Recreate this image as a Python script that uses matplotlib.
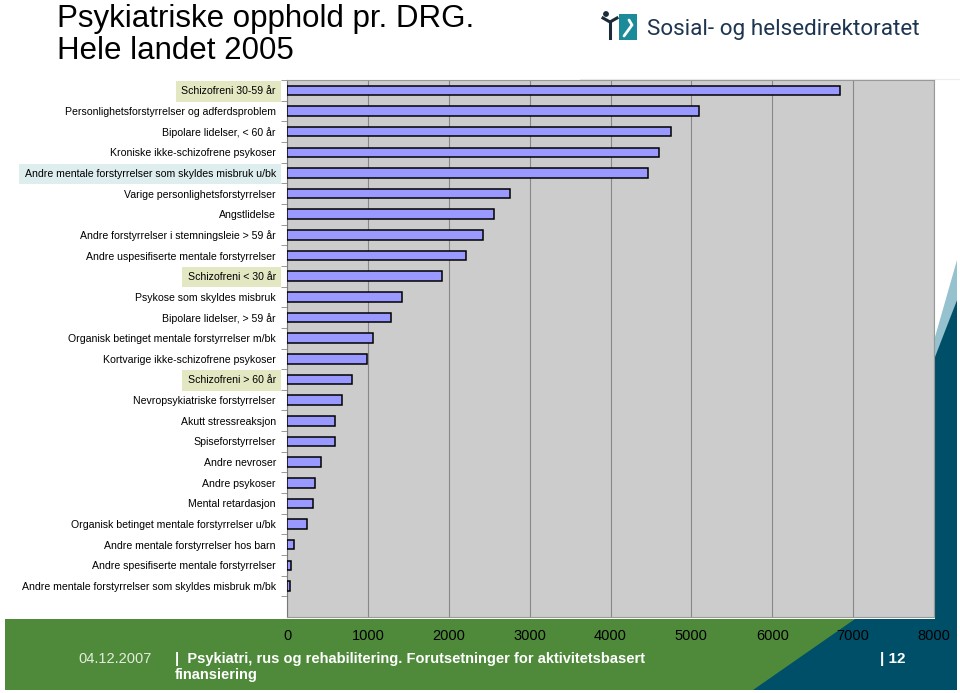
import numpy as np
import matplotlib.pyplot as plt
from matplotlib.patches import Polygon, Rectangle

plt.rcParams['font.family'] = ['Liberation Sans', 'DejaVu Sans']

# data, top row first
categories = [
    'Schizofreni 30-59 år',
    'Personlighetsforstyrrelser og adferdsproblem',
    'Bipolare lidelser, < 60 år',
    'Kroniske ikke-schizofrene psykoser',
    'Andre mentale forstyrrelser som skyldes misbruk u/bk',
    'Varige personlighetsforstyrrelser',
    'Angstlidelse',
    'Andre forstyrrelser i stemningsleie > 59 år',
    'Andre uspesifiserte mentale forstyrrelser',
    'Schizofreni < 30 år',
    'Psykose som skyldes misbruk',
    'Bipolare lidelser, > 59 år',
    'Organisk betinget mentale forstyrrelser m/bk',
    'Kortvarige ikke-schizofrene psykoser',
    'Schizofreni > 60 år',
    'Nevropsykiatriske forstyrrelser',
    'Akutt stressreaksjon',
    'Spiseforstyrrelser',
    'Andre nevroser',
    'Andre psykoser',
    'Mental retardasjon',
    'Organisk betinget mentale forstyrrelser u/bk',
    'Andre mentale forstyrrelser hos barn',
    'Andre spesifiserte mentale forstyrrelser',
    'Andre mentale forstyrrelser som skyldes misbruk m/bk',
]
opphold = [6840, 5090, 4750, 4600, 4460, 2760, 2560, 2420, 2210, 1920,
           1420, 1290, 1060, 990, 800, 680, 595, 590, 420, 345,
           320, 245, 85, 50, 40]
x_ticks = [0, 1000, 2000, 3000, 4000, 5000, 6000, 7000, 8000]
# labels with coloured background
highlight = {
    'Schizofreni 30-59 år': '#e3e8c2',
    'Schizofreni < 30 år': '#e3e8c2',
    'Schizofreni > 60 år': '#e3e8c2',
    'Andre mentale forstyrrelser som skyldes misbruk u/bk': '#deeded',
}

W, H = 960, 693
fig = plt.figure(figsize=(W / 100, H / 100), dpi=100)

# background decoration in pixel coords
bg = fig.add_axes([0, 0, 1, 1], zorder=-1)
bg.set_xlim(0, W)
bg.set_ylim(H, 0)
bg.set_axis_off()
bg.add_patch(Rectangle((5, 619), 952, 71, facecolor='#4f8a3b', edgecolor='none'))
bg.add_patch(Polygon([(957, 260), (935, 337), (935, 360), (957, 300)],
                     facecolor='#96c2cf', edgecolor='none'))
bg.add_patch(Polygon([(957, 300), (935, 357), (935, 619), (855, 619),
                      (753, 690), (957, 690)],
                     facecolor='#004f69', edgecolor='none'))
bg.plot([580, 960], [79, 79], color='#ececec', lw=0.8)

# title
bg.text(57, 19, 'Psykiatriske opphold pr. DRG.', fontsize=22.5, va='center', ha='left')
bg.text(57, 51, 'Hele landet 2005', fontsize=22.5, va='center', ha='left')

# logo
bg.add_patch(Rectangle((619, 14), 18, 26, facecolor='#1b8a99', edgecolor='none'))
bg.plot([624, 632, 629], [36, 25, 20], color='white', lw=2, solid_capstyle='round')
bg.plot([603, 610, 617], [18, 22, 18], color='#1c2b3a', lw=2.2)
bg.plot([610, 610], [22, 38], color='#1c2b3a', lw=2.2)
bg.add_patch(plt.Circle((606, 14), 2.2, color='#1c2b3a'))
bg.text(647, 29, 'Sosial- og helsedirektoratet', fontsize=16.2, family='Roboto',
        color='#1d3550', va='center', ha='left')

# footer
bg.text(78, 659, '04.12.2007', fontsize=10.5, color='#e4ecdc', va='center', ha='left')
bg.text(175, 667, '|  Psykiatri, rus og rehabilitering. Forutsetninger for aktivitetsbasert\n'
        'finansiering', fontsize=10.5, fontweight='bold', color='white',
        va='center', ha='left', linespacing=1.15)
bg.text(880, 659, '| 12', fontsize=11, fontweight='bold', color='white',
        va='center', ha='left')

# chart
ax = fig.add_axes([287 / W, 1 - 617 / H, (934 - 287) / W, (617 - 80) / H])
ax.set_facecolor('#cccccc')
y = np.arange(len(categories))
ax.barh(y, opphold, height=0.46, color='#9999ff', edgecolor='black',
        linewidth=1.1, zorder=3)
ax.set_xlim(0, 8000)
ax.set_ylim(len(categories) + 0.5, -0.5)
ax.set_xticks(x_ticks)
ax.set_xticklabels([str(v) for v in x_ticks], fontsize=10.5)
ax.tick_params(axis='x', length=0, pad=9)
ax.set_yticks(y)
ax.set_yticklabels(categories, fontsize=7.6)
ax.tick_params(axis='y', length=0, pad=8)
ax.set_yticks(np.arange(-0.5, len(categories) + 0.5, 1), minor=True)
ax.tick_params(axis='y', which='minor', length=4, color='#888888', width=0.6)
ax.grid(axis='x', color='#888888', lw=0.8, zorder=1)
for s in ['top', 'right', 'bottom']:
    ax.spines[s].set_color('#999999')
ax.spines['left'].set_color('#777777')

for lab in ax.get_yticklabels():
    c = highlight.get(lab.get_text())
    if c:
        lab.set_bbox(dict(facecolor=c, edgecolor='none', boxstyle='square,pad=0.5'))

fig.savefig('out.png', dpi=100)
